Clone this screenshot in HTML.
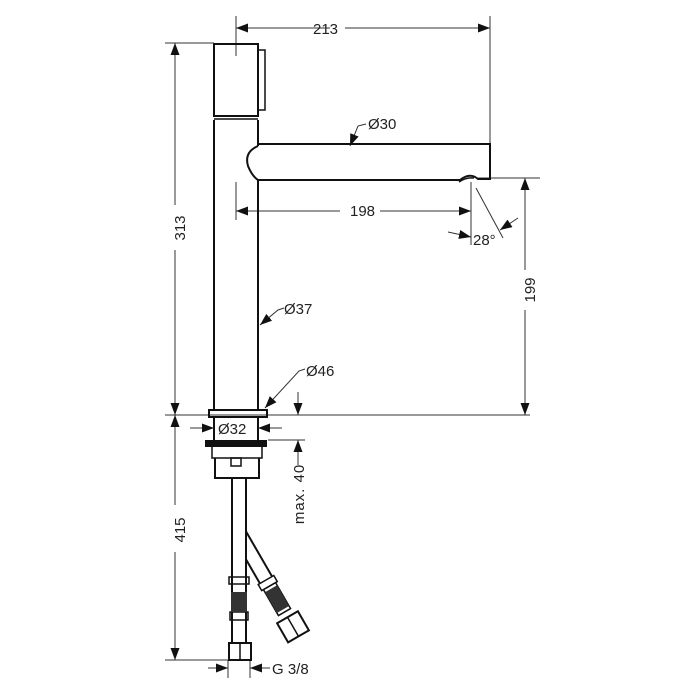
<!DOCTYPE html>
<html><head><meta charset="utf-8"><style>
html,body{margin:0;padding:0;background:#fff;}
svg{display:block;}
text{font-family:"Liberation Sans",sans-serif;font-size:15px;fill:#222;}
</style></head><body>
<svg width="700" height="700" viewBox="0 0 700 700" xmlns="http://www.w3.org/2000/svg">
<defs>
<marker id="a" viewBox="0 0 12 9" refX="12" refY="4.5" markerWidth="12" markerHeight="9" markerUnits="userSpaceOnUse" orient="auto"><path d="M0,0L12,4.5L0,9z" fill="#111"/></marker>
</defs>
<g stroke="#333" stroke-width="1" fill="none">
<line x1="236" y1="16" x2="236" y2="56"/>
<line x1="490" y1="16" x2="490" y2="145"/>
<line x1="165" y1="43" x2="214" y2="43"/>
<line x1="165" y1="415" x2="530" y2="415"/>
<line x1="165" y1="660" x2="228" y2="660"/>
<line x1="478" y1="178" x2="540" y2="178"/>
<line x1="236" y1="182" x2="236" y2="220"/>
<line x1="471" y1="182" x2="471" y2="245"/>
<line x1="476" y1="188" x2="503" y2="238"/>
<line x1="268" y1="440" x2="305" y2="440"/>
<line x1="228" y1="660" x2="228" y2="678"/>
<line x1="250" y1="660" x2="250" y2="678"/>
<line x1="330" y1="28" x2="236" y2="28" marker-end="url(#a)"/>
<line x1="345" y1="28" x2="490" y2="28" marker-end="url(#a)"/>
<line x1="175" y1="205" x2="175" y2="43" marker-end="url(#a)"/>
<line x1="175" y1="250" x2="175" y2="415" marker-end="url(#a)"/>
<line x1="175" y1="505" x2="175" y2="415" marker-end="url(#a)"/>
<line x1="175" y1="552" x2="175" y2="660" marker-end="url(#a)"/>
<line x1="525" y1="270" x2="525" y2="178" marker-end="url(#a)"/>
<line x1="525" y1="310" x2="525" y2="415" marker-end="url(#a)"/>
<line x1="340" y1="211" x2="236" y2="211" marker-end="url(#a)"/>
<line x1="380" y1="211" x2="471" y2="211" marker-end="url(#a)"/>
<line x1="448" y1="232" x2="471" y2="237" marker-end="url(#a)"/>
<line x1="518" y1="218" x2="500" y2="230" marker-end="url(#a)"/>
<line x1="298" y1="392" x2="298" y2="415" marker-end="url(#a)"/>
<line x1="298" y1="465" x2="298" y2="440" marker-end="url(#a)"/>
<line x1="190" y1="428" x2="214" y2="428" marker-end="url(#a)"/>
<line x1="282" y1="428" x2="258" y2="428" marker-end="url(#a)"/>
<line x1="208" y1="668" x2="228" y2="668" marker-end="url(#a)"/>
<line x1="270" y1="668" x2="250" y2="668" marker-end="url(#a)"/>
<polyline points="366,124 358,126 350,146" marker-end="url(#a)"/>
<polyline points="284,308 278,310 260,325" marker-end="url(#a)"/>
<polyline points="305,369 299,371 265,408" marker-end="url(#a)"/>
</g>
<g stroke="#111" stroke-width="2" fill="none">
<rect x="214" y="44" width="44" height="72"/>
<rect x="258" y="50" width="7" height="60" stroke-width="1.5"/>
<line x1="214" y1="119" x2="258" y2="119" stroke-width="1.5"/>
<line x1="214" y1="120" x2="214" y2="410"/>
<line x1="258" y1="120" x2="258" y2="146"/>
<line x1="258" y1="180" x2="258" y2="410"/>
<path d="M258,144 L490,144 L490,179 L478,179 Q470,172 460,180 L258,180"/>
<path d="M258,146 Q244,152 248,166 Q252,176 258,180"/>
<path d="M459,182 Q466,177 474,178" stroke-width="1.5"/>
<rect x="209" y="410" width="58" height="7"/>
<line x1="214" y1="417" x2="214" y2="441"/>
<line x1="258" y1="417" x2="258" y2="441"/>
<rect x="206" y="441" width="60" height="5" fill="#111"/>
<path d="M212,446 L212,458 L262,458 L262,446" stroke-width="1.5"/>
<path d="M215,458 L215,478 L259,478 L259,458"/>
<rect x="231" y="458" width="10" height="8" stroke-width="1.5"/>
<line x1="232" y1="478" x2="232" y2="643"/>
<line x1="246" y1="478" x2="246" y2="643"/>
<rect x="229" y="577" width="20" height="7" stroke-width="1.5"/>
<rect x="230" y="612" width="18" height="8" stroke-width="1.5"/>
<rect x="229" y="643" width="22" height="17"/>
<line x1="240" y1="643" x2="240" y2="660" stroke-width="1.5"/>
<g transform="translate(240,535) rotate(-30)">
<line x1="7" y1="0" x2="7" y2="52"/>
<line x1="-7" y1="24" x2="-7" y2="52"/>
<rect x="-9" y="52" width="18" height="7" stroke-width="1.5"/>
<rect x="-7" y="59" width="14" height="30" stroke-width="1.5"/>
<rect x="-12" y="95" width="24" height="22"/>
<line x1="0" y1="95" x2="0" y2="117" stroke-width="1.5"/>
</g>
</g>
<g fill="#333">
<rect x="231" y="592" width="16" height="20"/>
<g transform="translate(240,535) rotate(-30)"><rect x="-7" y="62" width="14" height="24"/></g>
</g>
<text x="313" y="34">213</text>
<text x="368" y="129">Ø30</text>
<text x="350" y="216">198</text>
<text x="473" y="245">28°</text>
<text x="284" y="314">Ø37</text>
<text x="306" y="376">Ø46</text>
<text x="218" y="434">Ø32</text>
<text x="272" y="674">G 3/8</text>
<text transform="translate(181,228) rotate(-90)" text-anchor="middle" dominant-baseline="middle">313</text>
<text transform="translate(181,530) rotate(-90)" text-anchor="middle" dominant-baseline="middle">415</text>
<text transform="translate(531,290) rotate(-90)" text-anchor="middle" dominant-baseline="middle">199</text>
<text transform="translate(300,494) rotate(-90)" text-anchor="middle" dominant-baseline="middle" letter-spacing="1">max. 40</text>
</svg>
</body></html>
